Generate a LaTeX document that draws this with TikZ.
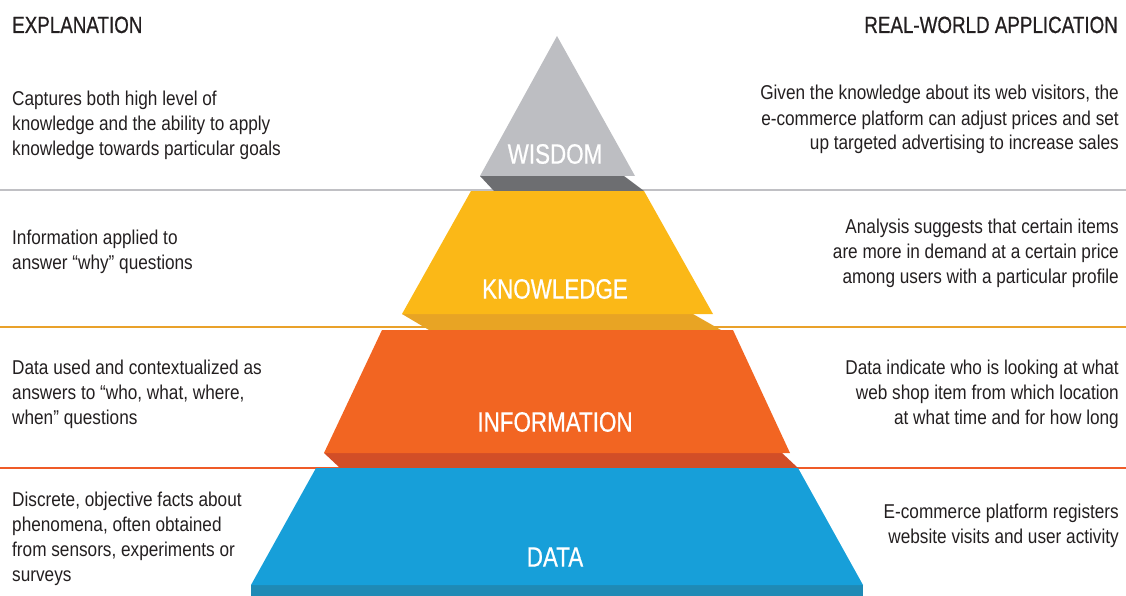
\documentclass[tikz,border=0pt]{standalone}
\usepackage{fontspec}
\setmainfont{Liberation Sans}[FakeStretch=0.86]
\newfontfamily\headfont{Liberation Sans}[FakeStretch=0.8,FakeBold=0.6]

\definecolor{txtdark}{RGB}{35,31,32}
\definecolor{wisdomgray}{RGB}{189,190,194}
\definecolor{wisdomdark}{RGB}{109,110,113}
\definecolor{knowyellow}{RGB}{251,184,23}
\definecolor{knowdark}{RGB}{232,164,36}
\definecolor{infoorange}{RGB}{242,101,34}
\definecolor{infodark}{RGB}{210,78,39}
\definecolor{datablue}{RGB}{23,159,217}
\definecolor{datadark}{RGB}{31,138,181}
\definecolor{sepgray}{RGB}{192,192,196}
\definecolor{sepyellow}{RGB}{233,161,42}
\definecolor{sepred}{RGB}{239,91,40}

\tikzset{
  expl/.style={anchor=base west, align=left, inner sep=0pt, text=txtdark,
    font=\fontsize{20}{25}\selectfont},
  appl/.style={anchor=base east, align=right, inner sep=0pt, text=txtdark,
    font=\fontsize{20}{25}\selectfont},
  head/.style={inner sep=0pt, text=txtdark, font=\headfont\fontsize{23.5}{28}\selectfont},
  layer/.style={inner sep=0pt, text=white, font=\headfont\fontsize{28}{32}\selectfont}
}

\begin{document}
\begin{tikzpicture}[x=1pt,y=-1pt]
\useasboundingbox (0,0) rectangle (1126,596);
% separators
\draw [line width=2pt, sepgray] (0,190) -- (1126,190);
\draw [line width=2pt, sepyellow] (0,327) -- (1126,327);
\draw [line width=2pt, sepred] (0,468) -- (1126,468);
% wisdom
\fill [wisdomdark] (480,176) -- (624,176) -- (644,191) -- (494,191) -- cycle;
\fill [wisdomgray] (557,36) -- (635,176) -- (480,176) -- cycle;
% knowledge
\fill [knowdark] (402,314) -- (693,314) -- (721,330) -- (429,330) -- cycle;
\fill [knowyellow] (471,191) -- (644,191) -- (713,314) -- (402,314) -- cycle;
% information
\fill [infodark] (324,453) -- (782,453) -- (798,468) -- (340,468) -- cycle;
\fill [infoorange] (382,330) -- (733,330) -- (790,453) -- (324,453) -- cycle;
% data
\fill [datadark] (251,585) rectangle (863,596);
\fill [datablue] (316,468) -- (798,468) -- (863,585) -- (251,585) -- cycle;
% layer names
\node (wisdom) at (555,154) [layer] {WISDOM};
\node (knowledge) at (555,289) [layer] {KNOWLEDGE};
\node (information) at (555,422) [layer] {INFORMATION};
\node (data) at (555,557) [layer] {DATA};
% headers
\node (explhead) at (12,33) [head, anchor=base west] {EXPLANATION};
\node (applhead) at (1118,33) [head, anchor=base east] {REAL-WORLD APPLICATION};
% explanation column (base = last line)
\node (wisdomexpl) at (12,156) [expl] {Captures both high level of\\knowledge and the ability to apply\\knowledge towards particular goals};
\node (knowexpl) at (12,269) [expl] {Information applied to\\answer “why” questions};
\node (infoexpl) at (12,424) [expl] {Data used and contextualized as\\answers to “who, what, where,\\when” questions};
\node (dataexpl) at (12,581) [expl] {Discrete, objective facts about\\phenomena, often obtained\\from sensors, experiments or\\surveys};
% application column
\node (wisdomappl) at (1119,150) [appl] {Given the knowledge about its web visitors, the\\e-commerce platform can adjust prices and set\\up targeted advertising to increase sales};
\node (knowappl) at (1119,283) [appl] {Analysis suggests that certain items\\are more in demand at a certain price\\among users with a particular profile};
\node (infoappl) at (1119,424) [appl] {Data indicate who is looking at what\\web shop item from which location\\at what time and for how long};
\node (dataappl) at (1119,543) [appl] {E-commerce platform registers\\website visits and user activity};
\end{tikzpicture}
\end{document}
